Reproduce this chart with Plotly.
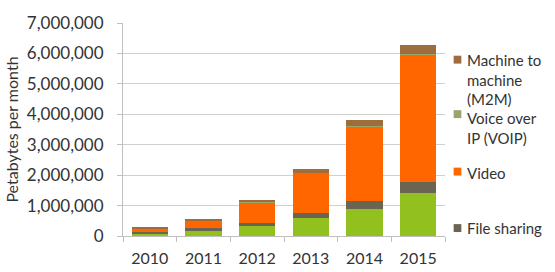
import plotly.graph_objects as go

years = ["2010", "2011", "2012", "2013", "2014", "2015"]
web_data = [90000, 170000, 335000, 590000, 890000, 1420000]
file_sharing = [30000, 80000, 95000, 180000, 270000, 370000]
video = [135000, 270000, 670000, 1310000, 2440000, 4180000]
voip = [1000, 1500, 2000, 2500, 3000, 3500]
m2m = [10000, 28000, 70000, 118000, 210000, 297000]

series_names = ["Web, email and data", "File sharing", "Video", "Voice over IP (VOIP)", "Machine to machine (M2M)"]
series_values = [web_data, file_sharing, video, voip, m2m]
colors = ["#92C01E", "#6B6454", "#FF6600", "#98A66A", "#9E6D3E"]

legend_labels = ["Machine to<br>machine<br>(M2M)", "Voice over<br>IP (VOIP)", "Video", "File sharing"]
legend_colors = ["#9E6D3E", "#98A66A", "#FF6600", "#6B6454"]

W, H = 555, 272
L, R, T, B = 110, 445, 21, 236

def px_x(p):
    return (p - L) / (R - L)

def px_y(p):
    return (B - p) / (B - T)

fig = go.Figure()
for name, vals, col in zip(series_names, series_values, colors):
    fig.add_trace(go.Bar(x=years, y=vals, name=name, marker=dict(color=col, line=dict(width=0)),
                         showlegend=False))

FONT = "Lato"
TXT = "#333333"
shapes = []
annotations = []
marker_centers = [58, 113, 171, 228]
text_baselines = [62, 121, 176, 232]
for lab, col, mc, tb in zip(legend_labels, legend_colors, marker_centers, text_baselines):
    shapes.append(dict(type="rect", xref="paper", yref="paper",
                       x0=px_x(454), x1=px_x(462), y0=px_y(mc + 4), y1=px_y(mc - 4),
                       fillcolor=col, line=dict(width=0)))
    annotations.append(dict(text=lab, xref="paper", yref="paper", x=px_x(466), y=px_y(tb - 15),
                            xanchor="left", yanchor="top", align="left", showarrow=False,
                            font=dict(family=FONT, size=15, color=TXT)))

fig.update_layout(
    width=W, height=H,
    margin=dict(l=L, r=W - R, t=T, b=H - B, pad=0),
    paper_bgcolor="white", plot_bgcolor="white",
    barmode="stack", bargap=0.32,
    font=dict(family=FONT, size=16, color=TXT),
    shapes=shapes, annotations=annotations,
    xaxis=dict(showgrid=False, showline=True, linecolor="#BFBFBF", linewidth=1, automargin=False,
               ticks="outside", tickson="boundaries", ticklen=5, tickcolor="#BFBFBF",
               tickfont=dict(family=FONT, size=16, color=TXT), ticklabelstandoff=8),
    yaxis=dict(range=[0, 7000000], tickvals=[0, 1000000, 2000000, 3000000, 4000000, 5000000, 6000000, 7000000],
               tickformat=",d", showgrid=True, gridcolor="#D0D0D0", gridwidth=1, automargin=True,
               showline=True, linecolor="#BFBFBF", linewidth=1, zeroline=False,
               ticks="outside", ticklen=5, tickcolor="#BFBFBF",
               tickfont=dict(family=FONT, size=17, color=TXT), ticklabelstandoff=10,
               title=dict(text="Petabytes per month", font=dict(family=FONT, size=16, color=TXT), standoff=4)),
)

fig.write_html("out.html")
